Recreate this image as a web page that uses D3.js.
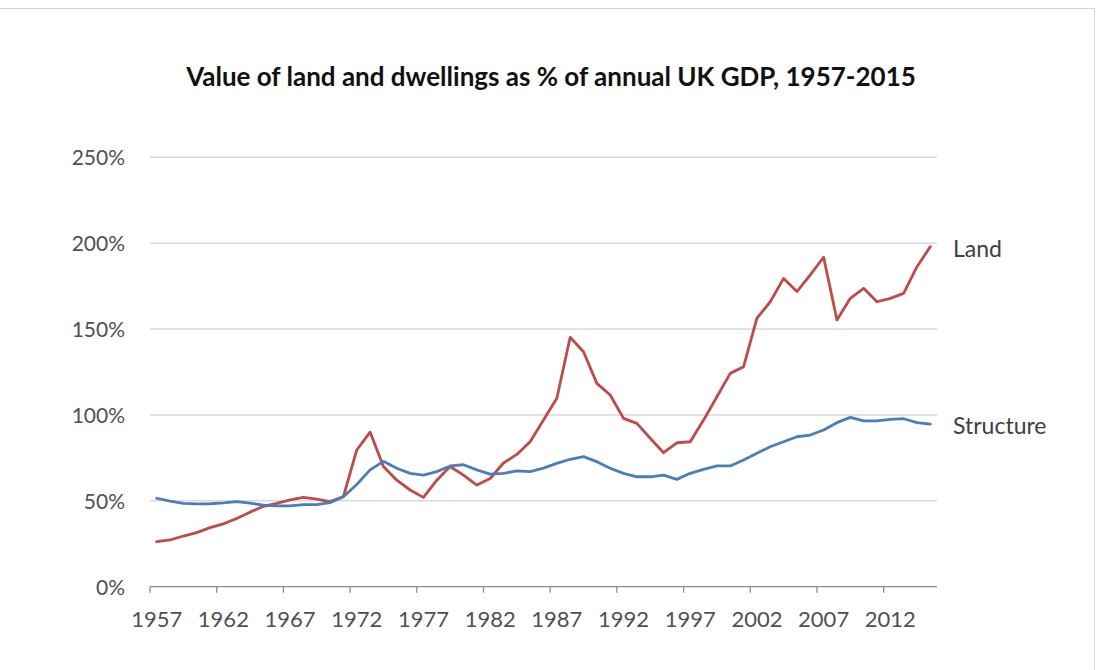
<!DOCTYPE html>
<html>
<head>
<meta charset="utf-8">
<script src="https://cdn.jsdelivr.net/npm/d3@7/dist/d3.min.js"></script>
<style>
  html, body { margin: 0; padding: 0; background: #fff; }
  svg { display: block; }
  text { font-family: Lato, "Open Sans", "Liberation Sans", sans-serif; }
</style>
</head>
<body>
<svg id="chart" width="1103" height="670"></svg>
<script>
// Years 1957–2015
const years = d3.range(1957, 2016);

// Value of land, % of annual UK GDP
const land = [
  26.2, 27.2, 29.5, 31.5, 34.4, 36.6, 39.7, 43.4, 46.8, 48.5,
  50.5, 52.0, 51.0, 49.5, 52.5, 79.6, 90.0, 70.0, 62.0, 56.3,
  52.0, 62.0, 70.0, 65.0, 59.2, 63.0, 72.0, 77.0, 84.4, 97.0,
  109.7, 145.2, 136.8, 118.4, 111.6, 98.0, 95.1, 86.4, 78.0, 83.8,
  84.4, 97.0, 110.6, 124.2, 128.1, 156.3, 165.9, 179.5, 171.8, 181.5,
  191.8, 155.3, 167.9, 173.7, 165.9, 167.9, 170.8, 186.3, 198.0
];

// Value of dwelling structures, % of annual UK GDP
const structure = [
  51.5, 49.8, 48.5, 48.2, 48.3, 48.8, 49.5, 48.6, 47.5, 47.0,
  47.0, 47.8, 47.8, 48.9, 52.4, 59.5, 68.0, 73.0, 69.0, 66.0,
  65.0, 67.0, 70.3, 71.0, 68.0, 65.5, 66.0, 67.4, 67.0, 69.0,
  71.8, 74.2, 75.7, 72.8, 69.0, 66.0, 64.0, 64.0, 65.0, 62.5,
  66.0, 68.3, 70.3, 70.3, 73.8, 77.7, 81.5, 84.4, 87.3, 88.3,
  91.2, 95.5, 98.6, 96.6, 96.6, 97.4, 97.8, 95.5, 94.7
];

const yTicks = [0, 50, 100, 150, 200, 250];
const xLabelYears = years.filter(y => (y - 1957) % 5 === 0);
const seriesNames = ["Land", "Structure"];

const svg = d3.select("#chart");

// Outer frame
svg.append("rect")
  .attr("x", -2).attr("y", 8.5)
  .attr("width", 1096.5).attr("height", 680)
  .attr("fill", "none").attr("stroke", "#d6d6d6").attr("stroke-width", 1);

const plot = { left: 150, right: 937, top: 157.3, bottom: 586.7 };

const x = d3.scaleBand().domain(years).range([plot.left, plot.right]).padding(0);
const y = d3.scaleLinear().domain([0, 250]).range([plot.bottom, plot.top]);
const cx = d => x(d) + x.bandwidth() / 2;

// Title
svg.append("text")
  .attr("x", 551).attr("y", 86)
  .attr("text-anchor", "middle")
  .attr("font-size", 26).attr("font-weight", "bold")
  .attr("fill", "#111")
  .text("Value of land and dwellings as % of annual UK GDP, 1957-2015");

// Horizontal gridlines
svg.append("g").selectAll("line")
  .data(yTicks.filter(t => t > 0))
  .join("line")
  .attr("x1", plot.left).attr("x2", plot.right)
  .attr("y1", d => y(d)).attr("y2", d => y(d))
  .attr("stroke", "#d9d9d9").attr("stroke-width", 1.5);

// Y axis labels
const yAxis = d3.axisLeft(y).tickValues(yTicks).tickSize(0).tickPadding(0)
  .tickFormat(d => d + "%");
const gy = svg.append("g").attr("transform", "translate(125,0)").call(yAxis);
gy.select(".domain").remove();
gy.selectAll("text")
  .attr("font-size", 21).attr("fill", "#505050")
  .attr("font-family", "Lato, 'Open Sans', sans-serif")
  .attr("dy", "0.35em");

// X axis line
svg.append("line")
  .attr("x1", plot.left).attr("x2", plot.right)
  .attr("y1", plot.bottom).attr("y2", plot.bottom)
  .attr("stroke", "#8c8c8c").attr("stroke-width", 1.3);

// Tick marks on category boundaries every five years
svg.append("g").selectAll("line")
  .data(xLabelYears)
  .join("line")
  .attr("x1", d => x(d)).attr("x2", d => x(d))
  .attr("y1", plot.bottom).attr("y2", plot.bottom + 6)
  .attr("stroke", "#8c8c8c").attr("stroke-width", 1.3);

// X axis labels at category centres
const xAxis = d3.axisBottom(x).tickValues(xLabelYears).tickSize(0).tickPadding(0);
const gx = svg.append("g").attr("transform", `translate(0,${plot.bottom})`).call(xAxis);
gx.select(".domain").remove();
gx.selectAll("text")
  .attr("font-size", 22).attr("fill", "#505050")
  .attr("font-family", "Lato, 'Open Sans', sans-serif")
  .attr("y", 40).attr("dy", 0);

// Series lines
const line = d3.line().x((d, i) => cx(years[i])).y(d => y(d));
const series = [
  { name: seriesNames[0], values: land, color: "#BE4B48" },
  { name: seriesNames[1], values: structure, color: "#4A7EBB" }
];

svg.append("g").selectAll("path")
  .data(series)
  .join("path")
  .attr("d", d => line(d.values))
  .attr("fill", "none")
  .attr("stroke", d => d.color)
  .attr("stroke-width", 2.8)
  .attr("stroke-linejoin", "round")
  .attr("stroke-linecap", "round");

// End-of-line labels
svg.append("g").selectAll("text")
  .data(series)
  .join("text")
  .attr("x", 953)
  .attr("y", d => y(d.values[d.values.length - 1]) + 2)
  .attr("dy", "0.35em")
  .attr("font-size", 23).attr("fill", "#404040")
  .text(d => d.name);
</script>
</body>
</html>
